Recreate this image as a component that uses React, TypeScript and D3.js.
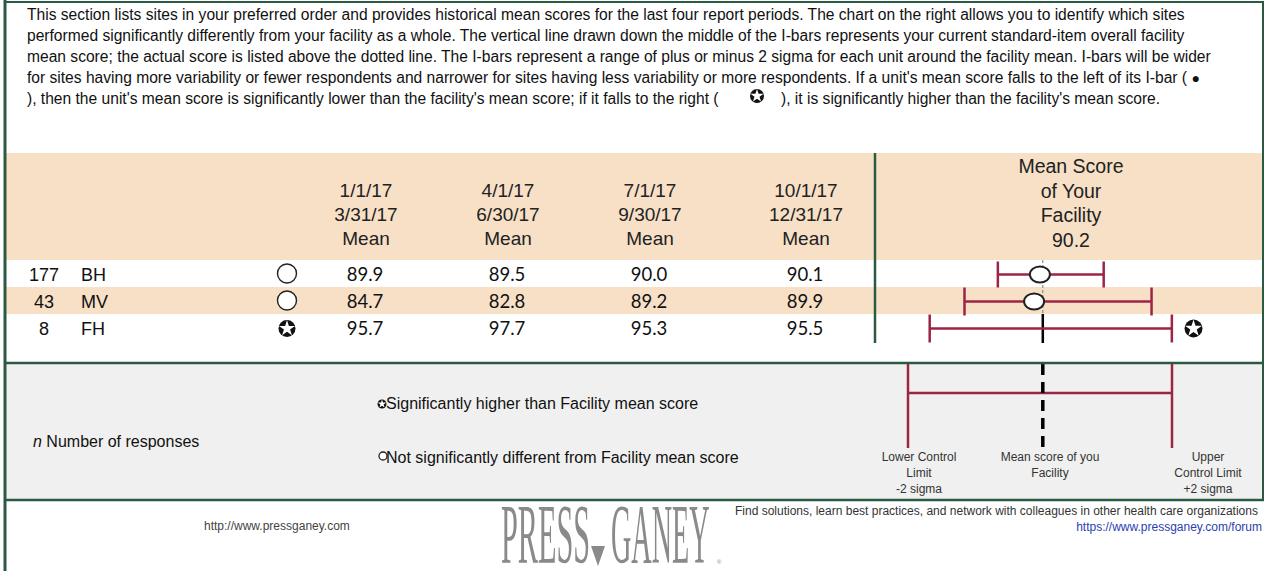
import React from 'react';
import * as d3 from 'd3';

// site rows
const sites = ['BH', 'MV', 'FH'];
const responses = [177, 43, 8];
const significance = ['same', 'same', 'higher'];

// period columns
const periodStart = ['1/1/17', '4/1/17', '7/1/17', '10/1/17'];
const periodEnd = ['3/31/17', '6/30/17', '9/30/17', '12/31/17'];
const q1Means = [89.9, 84.7, 95.7];
const q2Means = [89.5, 82.8, 97.7];
const q3Means = [90.0, 89.2, 95.3];
const q4Means = [90.1, 89.9, 95.5];

// I-bar control limits per site (+/- 2 sigma around facility mean)
const lowerLimits = [88.65, 87.5, 86.3];
const upperLimits = [92.3, 93.95, 94.65];
const facilityMean = 90.2;

const introLines = [
  'This section lists sites in your preferred order and provides historical mean scores for the last four report periods. The chart on the right allows you to identify which sites',
  'performed significantly differently from your facility as a whole. The vertical line drawn down the middle of the I-bars represents your current standard-item overall facility',
  'mean score; the actual score is listed above the dotted line. The I-bars represent a range of plus or minus 2 sigma for each unit around the facility mean. I-bars will be wider',
  "for sites having more variability or fewer respondents and narrower for sites having less variability or more respondents. If a unit's mean score falls to the left of its I-bar ( ",
];

const WIDTH = 1267;
const HEIGHT = 571;
const GREEN = '#2b5a43';
const TAN = '#f7e0c6';
const MAROON = '#9c2545';
const FONT = 'Arial, "Liberation Sans", Helvetica, sans-serif';
const NUM_FONT = 'Lato, "Open Sans", sans-serif';

const Star = ({ x, y, r }: { x: number; y: number; r: number }) => {
  const star = d3.symbol().type(d3.symbolStar).size(r * r * 1.1)();
  return (
    <g transform={`translate(${x},${y})`}>
      <circle r={r} fill="#111" />
      <path d={star || ''} fill="#fff" />
    </g>
  );
};

const App = () => {
  const periodMeans = [q1Means, q2Means, q3Means, q4Means];

  const colX = d3.scaleOrdinal<string, number>().domain(periodStart).range([366, 508, 650, 806]);
  const rowY = d3.scaleBand<string>().domain(sites).range([260, 341]).padding(0);
  const x = d3.scaleLinear().domain([86, 96]).range([921, 1211]);
  const meanX = x(facilityMean);

  const bw = rowY.bandwidth();

  return (
    <div style={{ position: 'absolute', left: 0, top: 0 }}>
      <svg width={WIDTH} height={HEIGHT} style={{ display: 'block', background: '#fff' }} fontFamily={FONT}>
        {/* header band and striped rows */}
        <rect x={6} y={153} width={1256} height={107} fill={TAN} />
        {sites.map((s, i) =>
          i % 2 === 1 ? (
            <rect key={s} x={6} y={rowY(s)!} width={1256} height={bw} fill={TAN} />
          ) : null
        )}
        {/* legend area */}
        <rect x={6} y={364} width={1256} height={136} fill="#f0f0f0" />

        {/* intro text */}
        {introLines.map((t, i) => (
          <text key={i} x={27} y={20 + i * 21} fontSize={15.6} fill="#111">
            {t}
            {i === 3 ? <tspan fontSize={14}>{'\u25CF'}</tspan> : null}
          </text>
        ))}
        <text x={27} y={104} fontSize={15.6} fill="#111">
          {"), then the unit's mean score is significantly lower than the facility's mean score; if it falls to the right ("}
        </text>
        <Star x={757} y={96} r={7} />
        <text x={781} y={104} fontSize={15.6} fill="#111">
          {"), it is significantly higher than the facility's mean score."}
        </text>

        {/* column headers */}
        {periodStart.map((p, i) => (
          <text key={p} textAnchor="middle" fontSize={19} fill="#222">
            <tspan x={colX(p)} y={197}>{p}</tspan>
            <tspan x={colX(p)} y={221}>{periodEnd[i]}</tspan>
            <tspan x={colX(p)} y={245}>Mean</tspan>
          </text>
        ))}
        <text textAnchor="middle" fontSize={19.5} fill="#222">
          {['Mean Score', 'of Your', 'Facility', facilityMean.toFixed(1)].map((t, i) => (
            <tspan key={i} x={1071} y={173 + i * 24.5}>{t}</tspan>
          ))}
        </text>

        {/* rows */}
        {sites.map((s, i) => {
          const cy = rowY(s)! + bw / 2;
          return (
            <g key={s}>
              <text x={44} y={cy + 7.5} textAnchor="middle" fontSize={18} fill="#111">{responses[i]}</text>
              <text x={81} y={cy + 7.5} fontSize={18} fill="#111">{s}</text>
              {significance[i] === 'higher' ? (
                <Star x={287} y={cy + 1} r={8.5} />
              ) : (
                <circle cx={287} cy={cy} r={9.5} fill="#fff" stroke="#222" strokeWidth={1.4} />
              )}
              {periodStart.map((p, j) => (
                <text key={p} x={colX(p) - 1} y={cy + 7.5} textAnchor="middle" fontSize={18.5} fill="#111" fontFamily={NUM_FONT}>
                  {periodMeans[j][i].toFixed(1)}
                </text>
              ))}
            </g>
          );
        })}

        {/* facility mean line */}
        <line x1={meanX} x2={meanX} y1={260} y2={rowY('FH')!} stroke="#777" strokeWidth={1} strokeDasharray="3,2" />
        <line x1={meanX} x2={meanX} y1={rowY('FH')!} y2={343} stroke="#000" strokeWidth={2.5} />

        {/* I-bars */}
        {sites.map((s, i) => {
          const cy = rowY(s)! + bw / 2 + 1;
          const lo = x(lowerLimits[i]);
          const hi = x(upperLimits[i]);
          const half = i === 0 ? 13 : 14;
          const latest = q4Means[i];
          return (
            <g key={s}>
              <line x1={lo} x2={hi} y1={cy} y2={cy} stroke={MAROON} strokeWidth={2.5} />
              <line x1={lo} x2={lo} y1={cy - half} y2={cy + half} stroke={MAROON} strokeWidth={2.5} />
              <line x1={hi} x2={hi} y1={cy - half} y2={cy + half} stroke={MAROON} strokeWidth={2.5} />
              {significance[i] === 'higher' ? (
                <Star x={x(latest) - 3} y={cy} r={9} />
              ) : (
                <ellipse cx={x(latest)} cy={cy} rx={10} ry={8} fill="#fff" stroke="#222" strokeWidth={2} />
              )}
            </g>
          );
        })}

        {/* vertical divider */}
        <line x1={875} x2={875} y1={153} y2={343} stroke={GREEN} strokeWidth={2.5} />

        {/* legend */}
        <Star x={382} y={404} r={4.5} />
        <text x={386} y={409} fontSize={16} fill="#111">Significantly higher than Facility mean score</text>
        <circle cx={383} cy={456} r={4} fill="#fff" stroke="#222" strokeWidth={1.3} />
        <text x={386} y={463} fontSize={16} fill="#111">Not significantly different from Facility mean score</text>
        <text x={33} y={447} fontSize={16} fill="#111">
          <tspan fontStyle="italic">n</tspan> Number of responses
        </text>

        <line x1={908} x2={908} y1={364} y2={448} stroke={MAROON} strokeWidth={2.5} />
        <line x1={1172} x2={1172} y1={364} y2={448} stroke={MAROON} strokeWidth={2.5} />
        <line x1={908} x2={1172} y1={393} y2={393} stroke={MAROON} strokeWidth={2.5} />
        <line x1={meanX} x2={meanX} y1={364} y2={450} stroke="#000" strokeWidth={3.5} strokeDasharray="11,7" />

        <text textAnchor="middle" fontSize={12} fill="#333">
          <tspan x={919} y={461}>Lower Control</tspan>
          <tspan x={919} y={477}>Limit</tspan>
          <tspan x={919} y={493}>-2 sigma</tspan>
        </text>
        <text textAnchor="middle" fontSize={12} fill="#333">
          <tspan x={1050} y={461}>Mean score of you</tspan>
          <tspan x={1050} y={477}>Facility</tspan>
        </text>
        <text textAnchor="middle" fontSize={12} fill="#333">
          <tspan x={1208} y={461}>Upper</tspan>
          <tspan x={1208} y={477}>Control Limit</tspan>
          <tspan x={1208} y={493}>+2 sigma</tspan>
        </text>

        {/* footer */}
        <text x={204} y={530} fontSize={12} fill="#444">http://www.pressganey.com</text>
        <g fill="#8a8a8a" fontFamily='"Liberation Serif", "DejaVu Serif", serif'>
          <text transform="translate(501,563) scale(0.36,1)" fontSize={84}>PRESS</text>
          <path d="M591,546 L605,546 L598,566 Z" />
          <text transform="translate(611,563) scale(0.335,1)" fontSize={84}>GANEY</text>
        </g>
        <text x={717} y={564} fontSize={6} fill="#8a8a8a">®</text>
        <text x={735} y={515} fontSize={12} fill="#333">
          Find solutions, learn best practices, and network with colleagues in other health care organizations
        </text>
        <text x={1262} y={531} textAnchor="end" fontSize={12} fill="#2a3fb0">https://www.pressganey.com/forum</text>

        {/* borders */}
        <line x1={5} x2={5} y1={0} y2={HEIGHT} stroke={GREEN} strokeWidth={3} />
        <line x1={4} x2={1264} y1={2} y2={2} stroke={GREEN} strokeWidth={2} />
        <line x1={1263} x2={1263} y1={1} y2={501} stroke={GREEN} strokeWidth={2} />
        <line x1={4} x2={1264} y1={363} y2={363} stroke={GREEN} strokeWidth={2.5} />
        <line x1={4} x2={1264} y1={500} y2={500} stroke={GREEN} strokeWidth={2.5} />
      </svg>
    </div>
  );
};

export default App;
